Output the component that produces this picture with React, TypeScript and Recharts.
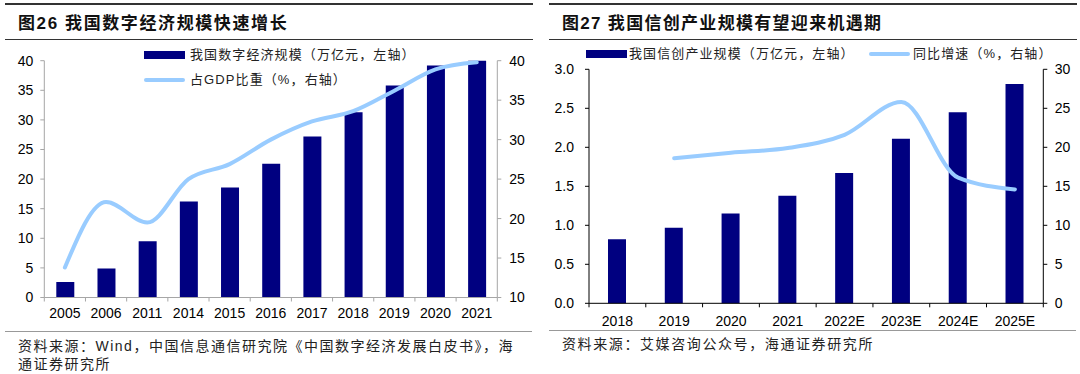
import React from 'react';
import { ComposedChart, Bar, Line, XAxis, YAxis } from 'recharts';

// 图26 data
const digitalYears = ['2005', '2006', '2011', '2014', '2015', '2016', '2017', '2018', '2019', '2020', '2021'];
const digitalScale = [2.6, 4.9, 9.5, 16.2, 18.6, 22.6, 27.2, 31.3, 35.8, 39.2, 40];
const digitalShare = [13.8, 22.1, 19.5, 25.0, 26.9, 30.0, 32.3, 33.6, 36.2, 38.9, 39.8];
const digitalLeftTicks = [0, 5, 10, 15, 20, 25, 30, 35, 40];
const digitalRightTicks = [10, 15, 20, 25, 30, 35, 40];

// 图27 data
const xcYears = ['2018', '2019', '2020', '2021', '2022E', '2023E', '2024E', '2025E'];
const xcScale = [0.82, 0.97, 1.15, 1.38, 1.67, 2.11, 2.45, 2.81];
const xcGrowth = [null, 18.6, 19.3, 19.9, 21.6, 25.8, 16.1, 14.6];
const xcLeftTicks = [0, 0.5, 1, 1.5, 2, 2.5, 3];
const xcRightTicks = [0, 5, 10, 15, 20, 25, 30];

const NAVY = '#000080';
const LIGHT = '#99CCFF';
const NUM_FONT = "'Liberation Sans', Arial, sans-serif";
const CJK_FONT = "'Liberation Sans', 'Noto Sans CJK SC', sans-serif";

const CategoryTick = (props: any) => {
    const { x, y, payload, color, gap, last } = props;
    const half = payload && payload.offset ? payload.offset : 0;
    return (
        <g>
            <line x1={x - half} y1={y} x2={x - half} y2={y + 4} stroke={color} />
            {payload.value === last && (
                <line x1={x + half} y1={y} x2={x + half} y2={y + 4} stroke={color} />
            )}
            <text
                x={x}
                y={y + gap}
                textAnchor="middle"
                dominantBaseline="central"
                fill="#000"
                fontSize={14}
                fontFamily={NUM_FONT}
            >
                {payload.value}
            </text>
        </g>
    );
};

const Rule = ({ left, top, width, color, thick }: any) => (
    <div style={{ position: 'absolute', left, top, width, height: 0, borderTop: `${thick}px solid ${color}` }} />
);

const Txt = ({ left, cy, size, bold, spacing, children }: any) => (
    <div
        style={{
            position: 'absolute',
            left,
            top: cy - 10,
            lineHeight: '20px',
            fontSize: size,
            fontWeight: bold ? 700 : 400,
            letterSpacing: spacing,
            fontFamily: CJK_FONT,
            color: bold ? '#111' : '#222',
            whiteSpace: 'nowrap',
        }}
    >
        {children}
    </div>
);

const Swatch = ({ left, top, w, h, color, round }: any) => (
    <div style={{ position: 'absolute', left, top, width: w, height: h, background: color, borderRadius: round ? h / 2 : 0 }} />
);

export default function App() {
    const digitalData = digitalYears.map((year, i) => ({
        year,
        scale: digitalScale[i],
        share: digitalShare[i],
    }));
    const xcData = xcYears.map((year, i) => ({
        year,
        scale: xcScale[i],
        growth: xcGrowth[i],
    }));

    const grey = '#A6A6A6';
    const black = '#000';

    return (
        <div style={{ position: 'absolute', left: 0, top: 0, width: 1080, height: 374, background: '#fff', overflow: 'hidden' }}>
            {/* left panel */}
            <div style={{ position: 'absolute', left: 0, top: 0 }}>
                <ComposedChart
                    width={540}
                    height={374}
                    data={digitalData}
                    margin={{ top: 60.7, right: 0, bottom: 46.5, left: 0 }}
                >
                    <XAxis
                        dataKey="year"
                        interval={0}
                        tickLine={false}
                        tickSize={0}
                        tickMargin={0}
                        height={30}
                        axisLine={{ stroke: grey }}
                        tick={<CategoryTick color={grey} gap={15.5} last="2021" />}
                    />
                    <YAxis
                        yAxisId="left"
                        width={44.3}
                        domain={[0, 40]}
                        ticks={digitalLeftTicks}
                        interval={0}
                        tickSize={4}
                        tickMargin={7}
                        axisLine={{ stroke: grey }}
                        tickLine={{ stroke: grey }}
                        tick={{ fill: '#000', fontSize: 14, fontFamily: NUM_FONT }}
                    />
                    <YAxis
                        yAxisId="right"
                        orientation="right"
                        width={42.7}
                        domain={[10, 40]}
                        ticks={digitalRightTicks}
                        interval={0}
                        tickSize={4}
                        tickMargin={8}
                        axisLine={{ stroke: grey }}
                        tickLine={{ stroke: grey }}
                        tick={{ fill: '#000', fontSize: 14, fontFamily: NUM_FONT }}
                    />
                    <Bar yAxisId="left" dataKey="scale" fill={NAVY} barSize={18} isAnimationActive={false} />
                    <Line
                        yAxisId="right"
                        type="monotone"
                        dataKey="share"
                        stroke={LIGHT}
                        strokeWidth={4}
                        strokeLinecap="round"
                        dot={false}
                        activeDot={false}
                        isAnimationActive={false}
                    />
                </ComposedChart>
            </div>

            {/* right panel */}
            <div style={{ position: 'absolute', left: 540, top: 0 }}>
                <ComposedChart
                    width={540}
                    height={374}
                    data={xcData}
                    margin={{ top: 69.3, right: 0, bottom: 40.7, left: 0 }}
                >
                    <XAxis
                        dataKey="year"
                        interval={0}
                        tickLine={false}
                        tickSize={0}
                        tickMargin={0}
                        height={30}
                        axisLine={{ stroke: black }}
                        tick={<CategoryTick color={black} gap={17.7} last="2025E" />}
                    />
                    <YAxis
                        yAxisId="left"
                        width={49}
                        domain={[0, 3]}
                        ticks={xcLeftTicks}
                        interval={0}
                        tickSize={4}
                        tickMargin={11}
                        tickFormatter={(v: number) => v.toFixed(1)}
                        axisLine={{ stroke: black }}
                        tickLine={{ stroke: black }}
                        tick={{ fill: '#000', fontSize: 14, fontFamily: NUM_FONT }}
                    />
                    <YAxis
                        yAxisId="right"
                        orientation="right"
                        width={36.7}
                        domain={[0, 30]}
                        ticks={xcRightTicks}
                        interval={0}
                        tickSize={4}
                        tickMargin={7.5}
                        axisLine={{ stroke: black }}
                        tickLine={{ stroke: black }}
                        tick={{ fill: '#000', fontSize: 14, fontFamily: NUM_FONT }}
                    />
                    <Bar yAxisId="left" dataKey="scale" fill={NAVY} barSize={18} isAnimationActive={false} />
                    <Line
                        yAxisId="right"
                        type="monotone"
                        dataKey="growth"
                        stroke={LIGHT}
                        strokeWidth={4}
                        strokeLinecap="round"
                        dot={false}
                        activeDot={false}
                        isAnimationActive={false}
                    />
                </ComposedChart>
            </div>

            {/* rules */}
            <Rule left={5} top={3} width={528} color="#333" thick={2} />
            <Rule left={5} top={38.5} width={528} color="#333" thick={1.5} />
            <Rule left={5} top={330.5} width={527} color="#999" thick={1.5} />
            <Rule left={549} top={3} width={528} color="#333" thick={2} />
            <Rule left={549} top={38.5} width={528} color="#333" thick={1.5} />
            <Rule left={549} top={330} width={527} color="#999" thick={1.5} />

            {/* titles */}
            <Txt left={18} cy={24} size={17} bold spacing="1.6px">图26 我国数字经济规模快速增长</Txt>
            <Txt left={562} cy={24} size={17} bold spacing="1.3px">图27 我国信创产业规模有望迎来机遇期</Txt>

            {/* left legend */}
            <Swatch left={144} top={51} w={41} h={8} color={NAVY} />
            <Txt left={190} cy={55} size={13} spacing="1.1px">我国数字经济规模（万亿元，左轴）</Txt>
            <Swatch left={144} top={78} w={41} h={4} color={LIGHT} round />
            <Txt left={190} cy={80} size={13} spacing="1.1px">占GDP比重（%，右轴）</Txt>

            {/* right legend */}
            <Swatch left={586} top={50} w={41} h={8} color={NAVY} />
            <Txt left={629} cy={54} size={13} spacing="1.1px">我国信创产业规模（万亿元，左轴）</Txt>
            <Swatch left={869} top={52} w={41} h={4} color={LIGHT} round />
            <Txt left={913} cy={54} size={13} spacing="1.1px">同比增速（%，右轴）</Txt>

            {/* sources */}
            <Txt left={18} cy={346} size={14} spacing="1.5px">资料来源：Wind，中国信息通信研究院《中国数字经济发展白皮书》，海</Txt>
            <Txt left={18} cy={364} size={14} spacing="1.5px">通证券研究所</Txt>
            <Txt left={562} cy={344} size={14} spacing="1.6px">资料来源：艾媒咨询公众号，海通证券研究所</Txt>
        </div>
    );
}
